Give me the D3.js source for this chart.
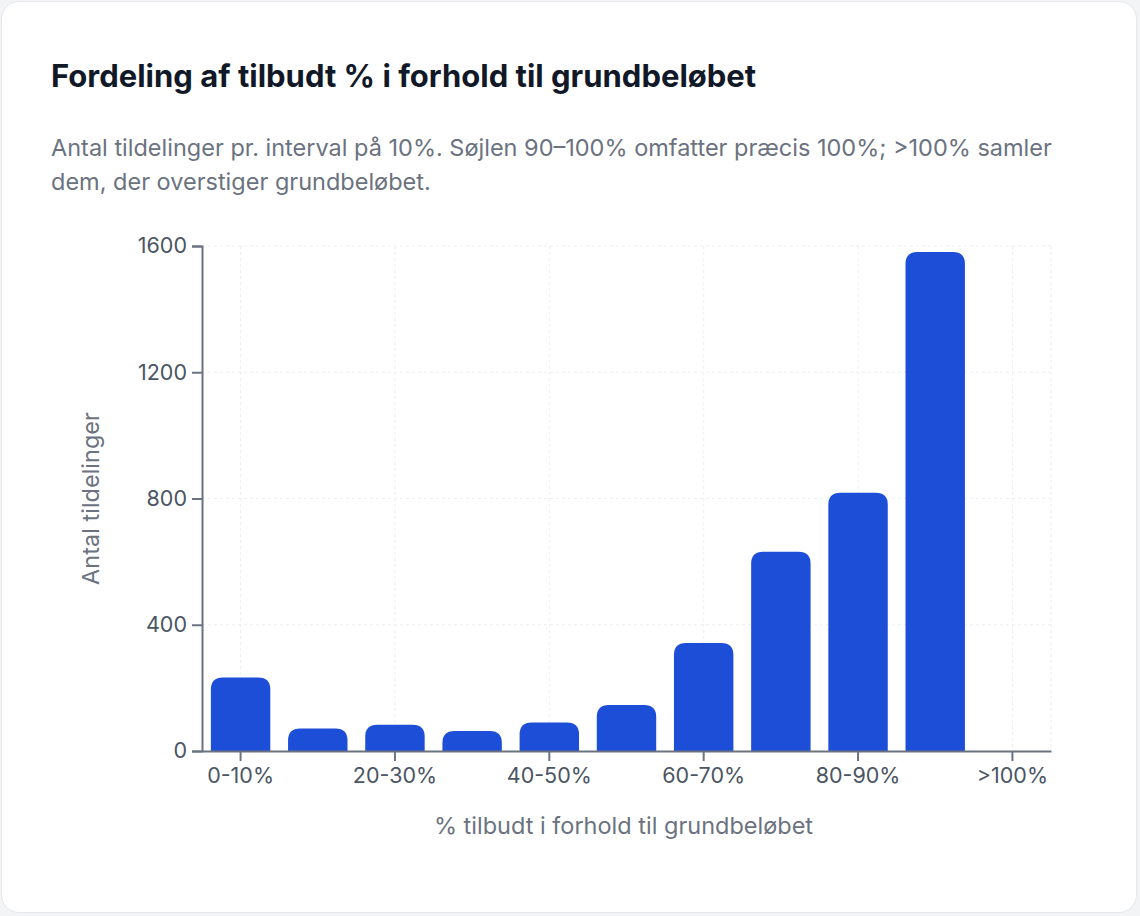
<!DOCTYPE html>
<html>
<head>
<meta charset="utf-8">
<script src="https://cdn.jsdelivr.net/npm/d3@7"></script>
<style>
  html, body { margin: 0; padding: 0; background: #f3f4f6; }
  body { width: 1140px; height: 916px; font-family: Inter, "Noto Sans", sans-serif; }
  #card {
    position: absolute; left: 1px; top: 1px; width: 1136px; height: 912px;
    background: #fff; border: 1px solid #e5e7eb; border-radius: 18px; box-sizing: border-box;
  }
</style>
</head>
<body>
<div id="card"></div>
<script>
// categories and counts per 10% interval
const categories = ['0-10%', '10-20%', '20-30%', '30-40%', '40-50%', '50-60%', '60-70%', '70-80%', '80-90%', '90-100%', '>100%'];
const counts = [233, 71, 83, 63, 90, 146, 342, 631, 818, 1581, 0];
const yTicks = [0, 400, 800, 1200, 1600];
const labelledCategories = ['0-10%', '20-30%', '40-50%', '60-70%', '80-90%', '>100%'];

const width = 1136, height = 912;
const margin = { top: 244, right: 87, bottom: 163, left: 200 };
const innerW = width - margin.left - margin.right;
const innerH = height - margin.top - margin.bottom;

const svg = d3.select('#card').append('svg')
    .attr('width', width)
    .attr('height', height)
    .style('position', 'absolute')
    .style('left', 0)
    .style('top', 0);

// Title and subtitle
svg.append('text')
    .attr('x', 49).attr('y', 85)
    .attr('font-size', '31px').attr('font-weight', 700)
    .attr('fill', '#111827')
    .text('Fordeling af tilbudt % i forhold til grundbeløbet');

const subtitle = ['Antal tildelinger pr. interval på 10%. Søjlen 90–100% omfatter præcis 100%; >100% samler',
    'dem, der overstiger grundbeløbet.'];
svg.append('g').selectAll('text')
    .data(subtitle)
    .enter().append('text')
    .attr('x', 49)
    .attr('y', (d, i) => 154 + i * 34)
    .attr('font-size', '23.5px')
    .attr('fill', '#6b7280')
    .text(d => d);

const g = svg.append('g').attr('transform', `translate(${margin.left},${margin.top})`);

const x = d3.scaleBand()
    .domain(categories)
    .range([0, innerW])
    .paddingInner(0.23)
    .paddingOuter(0.115);

const y = d3.scaleLinear()
    .domain([0, 1600])
    .range([innerH, 0]);

// Grid lines (dashed)
const grid = g.append('g').attr('class', 'grid');
grid.selectAll('.h')
    .data(yTicks.filter(d => d > 0))
    .enter().append('line')
    .attr('x1', 0).attr('x2', innerW)
    .attr('y1', d => y(d)).attr('y2', d => y(d))
    .attr('stroke', '#eceef1').attr('stroke-dasharray', '3 3');
grid.selectAll('.v')
    .data(labelledCategories)
    .enter().append('line')
    .attr('x1', d => x(d) + x.bandwidth() / 2).attr('x2', d => x(d) + x.bandwidth() / 2)
    .attr('y1', 0).attr('y2', innerH)
    .attr('stroke', '#eceef1').attr('stroke-dasharray', '3 3');
grid.append('line')
    .attr('x1', innerW).attr('x2', innerW)
    .attr('y1', 0).attr('y2', innerH)
    .attr('stroke', '#eceef1').attr('stroke-dasharray', '3 3');

// Bars with rounded tops
const r = 12;
g.selectAll('.bar')
    .data(categories.map((c, i) => ({ c, v: counts[i] })).filter(d => d.v > 0))
    .enter().append('path')
    .attr('class', 'bar')
    .attr('fill', '#1d4ed8')
    .attr('d', d => {
        const x0 = x(d.c), w = x.bandwidth(), y0 = y(d.v), y1 = y(0);
        const rr = Math.min(r, (y1 - y0), w / 2);
        return `M${x0},${y1}V${y0 + rr}Q${x0},${y0} ${x0 + rr},${y0}H${x0 + w - rr}Q${x0 + w},${y0} ${x0 + w},${y0 + rr}V${y1}Z`;
    });

// Y axis
const yAxis = g.append('g')
    .call(d3.axisLeft(y).tickValues(yTicks).tickFormat(d3.format('d')).tickSize(10).tickPadding(5));
yAxis.select('.domain').attr('stroke', '#6b7280').attr('stroke-width', 2);
yAxis.selectAll('.tick line').attr('stroke', '#6b7280').attr('stroke-width', 2);
yAxis.selectAll('text')
    .attr('font-family', 'Inter, sans-serif')
    .attr('font-size', '21.5px')
    .attr('fill', '#4b5563');

// X axis
const xAxis = g.append('g')
    .attr('transform', `translate(0,${innerH})`)
    .call(d3.axisBottom(x).tickValues(labelledCategories).tickSize(10).tickSizeOuter(0).tickPadding(7));
xAxis.select('.domain').attr('stroke', '#6b7280').attr('stroke-width', 2);
xAxis.selectAll('.tick line').attr('stroke', '#6b7280').attr('stroke-width', 2);
xAxis.selectAll('text')
    .attr('font-family', 'Inter, sans-serif')
    .attr('font-size', '21.5px')
    .attr('fill', '#4b5563');

// Axis titles
g.append('text')
    .attr('x', innerW / 2 - 3)
    .attr('y', innerH + 83)
    .attr('text-anchor', 'middle')
    .attr('font-size', '23.5px')
    .attr('fill', '#6b7280')
    .text('% tilbudt i forhold til grundbeløbet');

g.append('text')
    .attr('transform', `translate(-103,${innerH / 2}) rotate(-90)`)
    .attr('text-anchor', 'middle')
    .attr('font-size', '23.5px')
    .attr('fill', '#6b7280')
    .text('Antal tildelinger');
</script>
</body>
</html>
